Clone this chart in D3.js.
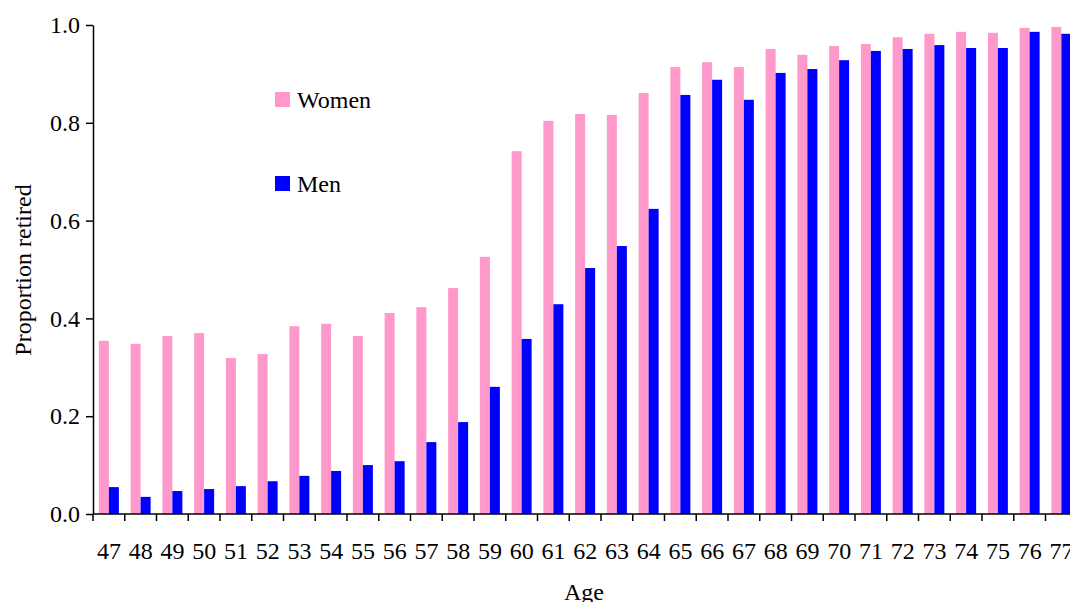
<!DOCTYPE html>
<html><head><meta charset="utf-8">
<script src="https://cdn.jsdelivr.net/npm/d3@7"></script>
<style>body{margin:0;background:#fff}svg{font-family:"Liberation Serif","Times New Roman",serif}</style>
</head><body>
<svg id="c" width="1070" height="602"></svg>
<script>
var ages = d3.range(47, 78).map(String);
var women = [0.354,0.348,0.364,0.370,0.319,0.327,0.384,0.389,0.364,0.411,0.423,0.462,0.526,0.742,0.804,0.818,0.816,0.861,0.914,0.924,0.914,0.951,0.939,0.957,0.961,0.975,0.982,0.986,0.984,0.994,0.996];
var men = [0.055,0.035,0.047,0.051,0.057,0.067,0.078,0.088,0.100,0.108,0.147,0.188,0.260,0.358,0.429,0.503,0.548,0.624,0.857,0.888,0.847,0.902,0.910,0.928,0.947,0.951,0.959,0.953,0.953,0.986,0.982];
var yTicks = [0, 0.2, 0.4, 0.6, 0.8, 1.0];

(function(){
var svg = d3.select("#c");
var left = 93, plotTop = 25, bottom = 514, bw = 31.75, fs = 24;
var x = d3.scaleBand().domain(ages).range([left, left + bw * ages.length]);
var y = d3.scaleLinear().domain([0, 1]).range([bottom, plotTop]);

svg.selectAll("rect.w").data(women).enter().append("rect")
  .attr("x", function(d, i){ return x(ages[i]) + x.bandwidth()/2 - 10; })
  .attr("y", function(d){ return y(d); })
  .attr("width", 10).attr("height", function(d){ return bottom - y(d); })
  .attr("fill", "#ff99cc");
svg.selectAll("rect.m").data(men).enter().append("rect")
  .attr("x", function(d, i){ return x(ages[i]) + x.bandwidth()/2; })
  .attr("y", function(d){ return y(d); })
  .attr("width", 10).attr("height", function(d){ return bottom - y(d); })
  .attr("fill", "#0000ff");

var ya = svg.append("g").attr("transform", "translate(" + left + ",0)")
  .call(d3.axisLeft(y).tickValues(yTicks).tickFormat(d3.format(".1f")).tickSize(7).tickSizeOuter(0));
ya.selectAll("text").attr("font-size", fs).attr("font-family", "Liberation Serif").attr("fill", "#000").attr("dx", -3);
ya.selectAll("line").attr("stroke", "#000").attr("stroke-width", 1.5);
ya.select(".domain").attr("stroke", "#000").attr("stroke-width", 1.5);

var xa = svg.append("g").attr("transform", "translate(0," + bottom + ")");
xa.append("line").attr("x1", left).attr("x2", 1070).attr("stroke", "#000").attr("stroke-width", 1.5);
xa.selectAll("line.t").data(d3.range(ages.length + 1)).enter().append("line")
  .attr("x1", function(i){ return left + i * bw; }).attr("x2", function(i){ return left + i * bw; })
  .attr("y1", 0).attr("y2", 7).attr("stroke", "#000").attr("stroke-width", 1.5);
xa.selectAll("text").data(ages).enter().append("text")
  .attr("x", function(d){ return x(d) + x.bandwidth()/2; }).attr("y", 45)
  .attr("text-anchor", "middle").attr("font-size", fs).text(function(d){ return d; });

svg.append("text").attr("x", 584).attr("y", 600).attr("text-anchor", "middle").attr("font-size", fs).text("Age");
svg.append("text").attr("transform", "translate(31,270) rotate(-90)").attr("text-anchor", "middle").attr("font-size", fs).text("Proportion retired");

var leg = [["Women", "#ff99cc", 100], ["Men", "#0000ff", 184]];
leg.forEach(function(l){
  svg.append("rect").attr("x", 275).attr("y", l[2] - 8).attr("width", 15).attr("height", 15).attr("fill", l[1]);
  svg.append("text").attr("x", 297).attr("y", l[2] + 8).attr("font-size", fs).text(l[0]);
});
})();
</script>
</body></html>
